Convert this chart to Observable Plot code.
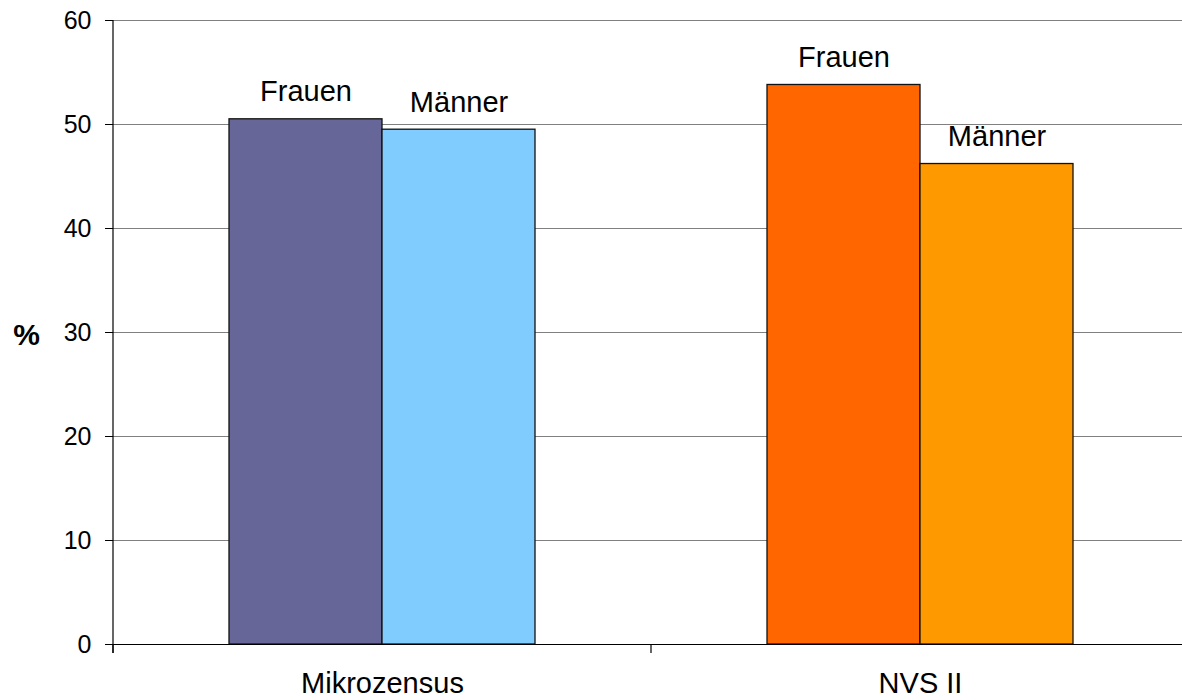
<!DOCTYPE html>
<html><head><meta charset="utf-8">
<script src="https://cdn.jsdelivr.net/npm/d3@7"></script>
<script src="https://cdn.jsdelivr.net/npm/@observablehq/plot@0.6"></script>
<style>body{margin:0;background:#fff}</style>
</head><body><div id="chart"></div>
<script>
const categories = ["Mikrozensus", "NVS II"];
const sexes = ["Frauen", "Männer"];
const mikrozensusValues = [50.5, 49.5];
const nvsValues = [53.8, 46.2];
const barColors = [["#666699", "#80CCFF"], ["#FF6600", "#FF9900"]];
const yTicks = [0, 10, 20, 30, 40, 50, 60];
const yLabel = "%";

const seriesValues = [mikrozensusValues, nvsValues];
const data = categories.flatMap((c, i) => sexes.map((s, j) => ({
  category: c, sex: s, value: seriesValues[i][j], color: barColors[i][j]
})));

function axisLines(index, scales, values, dim) {
  const g = d3.create("svg:g").attr("stroke", "black").attr("stroke-width", 1.2).attr("fill", "none");
  const y0 = dim.height - dim.marginBottom, yTop = dim.marginTop;
  const left = dim.marginLeft;
  g.append("line").attr("x1", left).attr("x2", left).attr("y1", yTop).attr("y2", y0 + 9);
  const fx = scales.fx;
  let edges = [];
  if (fx) {
    const bw = typeof fx.bandwidth === "function" ? fx.bandwidth() : (scales.scales && scales.scales.fx ? scales.scales.fx.bandwidth : 0);
    edges = categories.map(c => fx(c));
    edges.push(fx(categories[categories.length - 1]) + bw);
  }
  for (const e of edges) {
    g.append("line").attr("x1", e).attr("x2", e).attr("y1", y0).attr("y2", y0 + 9);
  }
  return g.node();
}

const chart = Plot.plot({
  width: 1182,
  height: 700,
  marginTop: 20,
  marginBottom: 56,
  marginLeft: 113,
  marginRight: 0,
  style: {fontFamily: "'Liberation Sans', Arial, sans-serif", background: "#fff", color: "#000"},
  fx: {domain: categories, range: [113, 1189], padding: 0},
  x: {domain: sexes, paddingInner: 0, paddingOuter: 0.747, axis: null},
  y: {domain: [0, 60]},
  color: {type: "identity"},
  marks: [
    Plot.gridY(yTicks, {stroke: "#808080", strokeOpacity: 1, strokeWidth: 1}),
    Plot.barY(data, {fx: "category", x: "sex", y: "value", fill: "color", stroke: "#111", strokeWidth: 1.3, inset: 0}),
    Plot.ruleY([0], {stroke: "#000", strokeWidth: 1.2}),
    Plot.text(data, {fx: "category", x: "sex", y: "value", text: "sex", dy: -18, lineAnchor: "bottom", fontSize: 29, fill: "#000"}),
    Plot.axisY({ticks: yTicks, tickSize: 8, tickPadding: 14, fontSize: 25, label: null, stroke: "#000"}),
    Plot.axisFx({anchor: "bottom", tickSize: 0, tickPadding: 28, fontSize: 29, label: null}),
    Plot.text([yLabel], {facetAnchor: "left", frameAnchor: "left", textAnchor: "middle", x: null, y: () => 30, text: d => d, dx: -87, dy: 3, fontSize: 30, fontWeight: "bold", fill: "#000"}),
    Plot.frame({facet: "super", render: axisLines})
  ]
});
document.getElementById("chart").appendChild(chart);
</script>
</body></html>
